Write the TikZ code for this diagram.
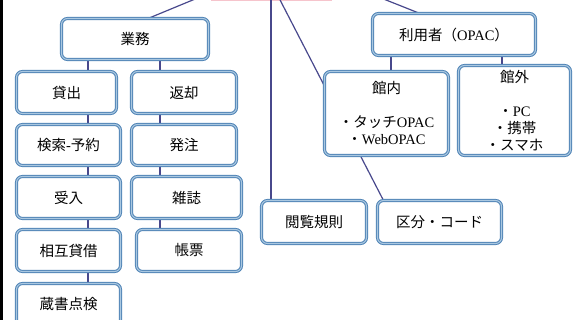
\documentclass[tikz,border=0pt]{standalone}
\usepackage{fontspec}
\setmainfont{Liberation Serif}
\newfontfamily\cjk{Noto Sans CJK JP}
\usetikzlibrary{backgrounds}
\definecolor{boxedge}{RGB}{80,132,182}
\definecolor{boxlight}{RGB}{170,200,225}
\definecolor{linkblue}{RGB}{72,72,140}
\definecolor{rootpink}{RGB}{246,196,204}
\begin{document}
\begin{tikzpicture}[
    x=1pt, y=-1pt,
    box/.style={rectangle, rounded corners=6pt, draw=boxedge, line width=1pt, double=boxlight, double distance=1.1pt, fill=white, inner sep=0pt, outer sep=0pt, align=center, font=\cjk\fontsize{14.5}{17}\selectfont},
    rootbox/.style={rectangle, draw=rootpink, line width=1.5pt, fill=white, inner sep=0pt, outer sep=0pt},
    link/.style={draw=linkblue, line width=1.2pt}
]
\useasboundingbox (0,0) rectangle (573,320);
\clip (0,0) rectangle (573,320);

% Left column
\node[box, minimum width=147pt, minimum height=41pt] (gyomu) at (135,39) {業務};
\node[box, minimum width=100pt, minimum height=42pt] (kashidashi) at (66.5,92.5) {貸出};
\node[box, minimum width=104pt, minimum height=41pt] (kensaku) at (68.5,145) {検索{\rmfamily -}予約};
\node[box, minimum width=104pt, minimum height=42pt] (ukeire) at (68.5,197.5) {受入};
\node[box, minimum width=104pt, minimum height=42pt] (sogo) at (68.5,250.5) {相互貸借};
\node[box, minimum width=104pt, minimum height=42pt] (zosho) at (68.5,304.5) {蔵書点検};

% Right column
\node[box, minimum width=105pt, minimum height=42pt] (henkyaku) at (184,92.5) {返却};
\node[box, minimum width=105pt, minimum height=41pt] (hacchu) at (184,145) {発注};
\node[box, minimum width=110pt, minimum height=42pt] (zasshi) at (186.5,197.5) {雑誌};
\node[box, minimum width=105pt, minimum height=42pt] (chohyo) at (189,250.5) {帳票};

% Middle
\node[box, minimum width=105pt, minimum height=43pt] (etsuran) at (314,222) {閲覧規則};
\node[box, minimum width=124pt, minimum height=43pt] (kubun) at (439.5,222) {区分・コード};

% Users
\node[box, minimum width=163pt, minimum height=42pt] (riyosha) at (454,34.5) {利用者（{\rmfamily OPAC}）};
\node[box, minimum width=124pt, minimum height=84pt] (kannai) at (386.5,113.5) {館内\\[17pt]・タッチ{\rmfamily OPAC}\\・{\rmfamily WebOPAC}};
\node[box, minimum width=112pt, minimum height=90pt] (kangai) at (514.5,110.5) {館外\\[17pt]・{\rmfamily PC}\\・携帯\\・スマホ};

% Connectors
\coordinate (colL) at (88,0);
\coordinate (colR) at (160,0);
\coordinate (colU1) at (391,0);
\coordinate (colU2) at (502,0);
\coordinate (srcG) at (202.4,-4);
\coordinate (srcV) at (271,-4);
\coordinate (srcD) at (278,-4);
\coordinate (srcU) at (376,-4);

\begin{pgfonlayer}{background}
\fill[black] (0,0) rectangle (2.6,320);
\node[rootbox, minimum width=120pt, minimum height=40pt] (root) at (271.5,-19.25) {};

\draw[link] (srcG) -- ([xshift=13pt]gyomu.north);
\draw[link] (srcV) -- (srcV |- etsuran.north);
\draw[link] (srcD) -- ([xshift=6pt]kubun.north west);
\draw[link] (srcU) -- ([xshift=-34pt]riyosha.north);

\draw[link] (gyomu.south -| colL) -- (kashidashi.north -| colL);
\draw[link] (kashidashi.south -| colL) -- (kensaku.north -| colL);
\draw[link] (kensaku.south -| colL) -- (ukeire.north -| colL);
\draw[link] (ukeire.south -| colL) -- (sogo.north -| colL);
\draw[link] (sogo.south -| colL) -- (zosho.north -| colL);

\draw[link] (gyomu.south -| colR) -- (henkyaku.north -| colR);
\draw[link] (henkyaku.south -| colR) -- (hacchu.north -| colR);
\draw[link] (hacchu.south -| colR) -- (zasshi.north -| colR);
\draw[link] (zasshi.south -| colR) -- (chohyo.north -| colR);

\draw[link] (riyosha.south -| colU1) -- (kannai.north -| colU1);
\draw[link] (riyosha.south -| colU2) -- (kangai.north -| colU2);
\end{pgfonlayer}

\end{tikzpicture}
\end{document}
